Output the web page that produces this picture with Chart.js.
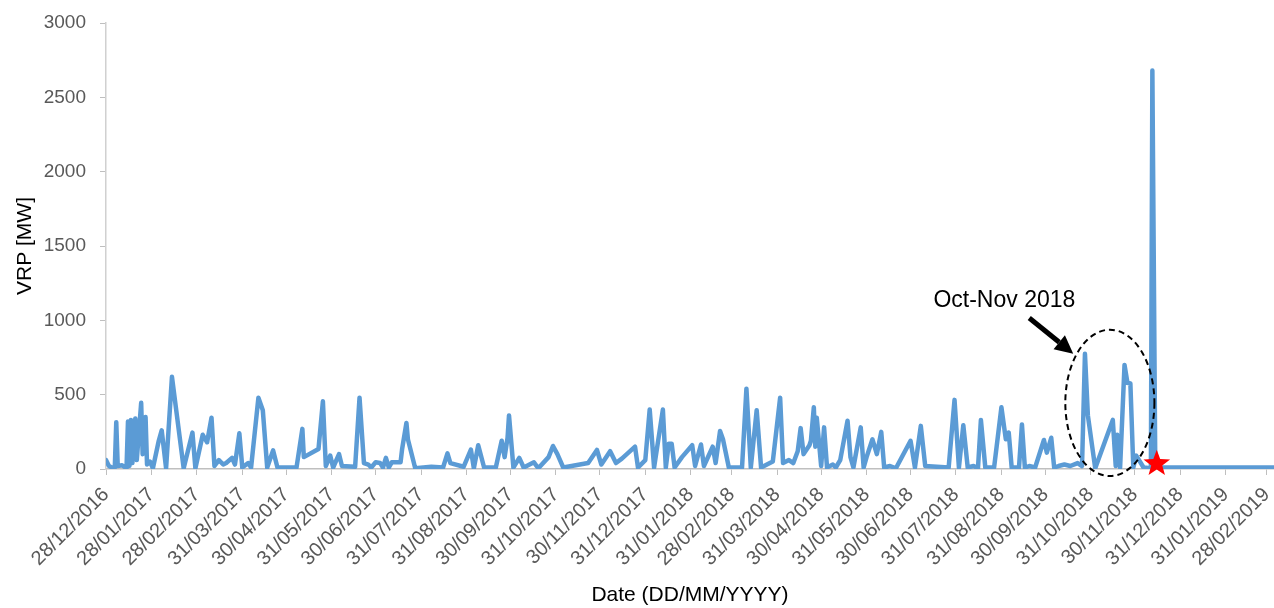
<!DOCTYPE html>
<html>
<head>
<meta charset="utf-8">
<script src="https://cdn.jsdelivr.net/npm/chart.js@4.4.1/dist/chart.umd.min.js"></script>
<style>
  html, body { margin: 0; padding: 0; background: #fff; }
  #wrap { width: 1274px; height: 608px; position: relative; }
</style>
</head>
<body>
<div id="wrap"><canvas id="vrpChart"></canvas></div>
<script>
// days after 28/12/2016
const dayIndex = [
  0, 2, 4, 6, 7, 8, 11, 14, 15, 16, 17, 18, 20, 21, 24, 25, 27, 28, 30, 32,
  36, 38, 41, 45, 53, 59, 61, 66, 69, 72, 74, 77, 80, 82, 86, 88, 91, 93, 97, 99,
  104, 107, 110, 114, 117, 130, 134, 135, 145, 148, 150, 153,
  155, 159, 161, 170, 173, 176, 179, 181, 184, 187, 189, 191, 193, 195, 201, 202, 205, 206, 211, 222,
  230, 233, 235, 244, 249, 251, 254, 258, 266, 270, 272, 274, 275, 278, 282, 285, 292, 295, 302, 305,
  308, 312,
  329, 335, 338, 344, 348, 352, 361, 363, 368, 371, 374, 380, 382, 384, 386, 388, 393, 400, 402, 406,
  408, 414, 416, 419, 421, 425, 434, 437, 440, 444, 447, 455, 460, 462, 466,
  469, 472, 474, 476, 480, 481, 483, 484, 485, 488, 490, 492, 496, 498, 501, 506, 508, 510, 515, 517,
  519, 523, 526, 529, 531, 535, 539, 549, 552, 556, 559, 575, 579, 582, 585, 588, 592, 595, 597, 600,
  606, 611, 614, 616, 618, 623, 625,
  627, 630, 634, 640, 642, 645, 647, 650, 654, 658, 663, 666, 668, 670, 675, 687, 689, 690, 692, 695,
  697, 699, 701, 703, 708, 713, 714, 716, 797
];
// VRP in MW
const vrp = [
  60, 20, 10, 10, 315, 20, 25, 5, 320, 20, 330, 40, 340, 60, 445, 100, 350, 30, 50, 5,
  190, 260, 5, 620, 5, 245, 5, 230, 180, 345, 20, 60, 30, 40, 75, 30, 240, 10, 40, 10,
  480, 395, 10, 125, 10, 10, 270, 80, 135, 455, 20, 90,
  10, 100, 20, 15, 480, 40, 30, 10, 45, 40, 10, 75, 10, 45, 45, 130, 310, 200, 5, 15,
  10, 105, 40, 15, 130, 5, 160, 10, 10, 190, 80, 210, 360, 10, 75, 10, 45, 5, 80, 155,
  100, 10,
  40, 128, 30, 120, 40, 70, 150, 10, 60, 400, 10, 400, 10, 170, 170, 10, 80, 160, 20, 165,
  20, 150, 40, 255, 200, 10, 10, 540, 10, 395, 10, 50, 480, 40, 60,
  40, 120, 275, 100, 160, 190, 415, 150, 345, 20, 280, 10, 30, 10, 60, 325, 80, 10, 280, 10,
  80, 200, 100, 250, 10, 20, 5, 190, 10, 290, 20, 10, 465, 10, 295, 10, 20, 5, 330, 10,
  10, 415, 200, 245, 10, 10, 300,
  10, 20, 10, 195, 110, 210, 10, 20, 30, 20, 40, 20, 775, 360, 5, 330, 20, 230, 10, 700,
  580, 575, 10, 90, 10, 5, 2680, 10, 10
];
const tickLabels = [
  '28/12/2016', '28/01/2017', '28/02/2017', '31/03/2017', '30/04/2017', '31/05/2017',
  '30/06/2017', '31/07/2017', '31/08/2017', '30/09/2017', '31/10/2017', '30/11/2017',
  '31/12/2017', '31/01/2018', '28/02/2018', '31/03/2018', '30/04/2018', '31/05/2018',
  '30/06/2018', '31/07/2018', '31/08/2018', '30/09/2018', '31/10/2018', '30/11/2018',
  '31/12/2018', '31/01/2019', '28/02/2019'
];
const lastDay = 797;

// the Oct-Nov 2018 note, in data units (day, MW)
const noteText = 'Oct-Nov 2018';
const notePos = [613, 1135];
const arrowFrom = [630, 1016];
const arrowTo = [660, 776];
const ellipseCenter = [685, 445];
const ellipseRadius = [30.4, 492];
const starPos = [717, 35];

const fontFamily = '"Liberation Sans", Arial, sans-serif';

function dayOf(label) {
  const p = label.split('/');
  return Math.round((Date.UTC(+p[2], +p[1] - 1, +p[0]) - Date.UTC(2016, 11, 28)) / 86400000);
}
const tickDays = tickLabels.map(dayOf);

const notePlugin = {
  id: 'note',
  afterDatasetsDraw(chart) {
    const ctx = chart.ctx;
    const x = chart.scales.x, y = chart.scales.y;
    ctx.save();

    // dashed ellipse round the Oct-Nov spikes
    const cx = x.getPixelForValue(ellipseCenter[0]);
    const cy = y.getPixelForValue(ellipseCenter[1]);
    const rx = x.getPixelForValue(ellipseCenter[0] + ellipseRadius[0]) - cx;
    const ry = cy - y.getPixelForValue(ellipseCenter[1] + ellipseRadius[1]);
    ctx.setLineDash([6, 4]);
    ctx.lineWidth = 2;
    ctx.strokeStyle = '#000';
    ctx.beginPath();
    ctx.ellipse(cx, cy, rx, ry, 0, 0, Math.PI * 2);
    ctx.stroke();
    ctx.setLineDash([]);

    // arrow
    const x1 = x.getPixelForValue(arrowFrom[0]), y1 = y.getPixelForValue(arrowFrom[1]);
    const x2 = x.getPixelForValue(arrowTo[0]), y2 = y.getPixelForValue(arrowTo[1]);
    const ang = Math.atan2(y2 - y1, x2 - x1);
    const headLen = 18, headW = 9;
    const bx = x2 - headLen * Math.cos(ang), by = y2 - headLen * Math.sin(ang);
    ctx.lineWidth = 5;
    ctx.beginPath();
    ctx.moveTo(x1, y1);
    ctx.lineTo(bx, by);
    ctx.stroke();
    ctx.fillStyle = '#000';
    ctx.beginPath();
    ctx.moveTo(x2, y2);
    ctx.lineTo(bx + headW * Math.sin(ang), by - headW * Math.cos(ang));
    ctx.lineTo(bx - headW * Math.sin(ang), by + headW * Math.cos(ang));
    ctx.closePath();
    ctx.fill();

    // label
    ctx.font = '23px ' + fontFamily;
    ctx.textAlign = 'center';
    ctx.textBaseline = 'middle';
    ctx.fillText(noteText, x.getPixelForValue(notePos[0]), y.getPixelForValue(notePos[1]));

    // red star
    const sx = x.getPixelForValue(starPos[0]), sy = y.getPixelForValue(starPos[1]);
    const outer = 14, inner = 5.8;
    ctx.fillStyle = '#ff0000';
    ctx.beginPath();
    for (let i = 0; i < 10; i++) {
      const r = i % 2 === 0 ? outer : inner;
      const a = -Math.PI / 2 + i * Math.PI / 5;
      if (i === 0) ctx.moveTo(sx + r * Math.cos(a), sy + r * Math.sin(a));
      else ctx.lineTo(sx + r * Math.cos(a), sy + r * Math.sin(a));
    }
    ctx.closePath();
    ctx.fill();

    ctx.restore();
  }
};

new Chart(document.getElementById('vrpChart'), {
  type: 'line',
  data: {
    datasets: [{
      label: 'VRP',
      data: dayIndex.map((d, i) => ({ x: d, y: vrp[i] })),
      borderColor: '#5B9BD5',
      borderWidth: 4.5,
      borderJoinStyle: 'round',
      borderCapStyle: 'round',
      pointRadius: 0,
      tension: 0,
      fill: false
    }]
  },
  options: {
    responsive: true,
    maintainAspectRatio: false,
    animation: false,
    layout: { padding: { top: 23, right: 0, bottom: 0, left: 0 } },
    plugins: {
      legend: { display: false },
      tooltip: { enabled: false }
    },
    scales: {
      x: {
        type: 'linear',
        min: 0,
        max: lastDay,
        afterBuildTicks: s => { s.ticks = tickDays.map(v => ({ value: v })); },
        afterFit: s => { s.height = 139; s.paddingLeft = 0; s.paddingRight = 0; },
        ticks: {
          autoSkip: false,
          minRotation: 45,
          maxRotation: 45,
          padding: 8,
          color: '#595959',
          font: { size: 20, family: fontFamily },
          callback: v => tickLabels[tickDays.indexOf(v)]
        },
        grid: { drawOnChartArea: false, tickLength: 6, tickColor: '#bfbfbf' },
        border: { color: '#bfbfbf', width: 1.5 },
        title: {
          display: true,
          text: 'Date (DD/MM/YYYY)',
          color: '#000',
          font: { size: 21, family: fontFamily },
          padding: { top: 0, bottom: 0 }
        }
      },
      y: {
        min: 0,
        max: 3000,
        afterFit: s => { s.width = 106; s.paddingTop = 0; s.paddingBottom = 0; },
        ticks: {
          stepSize: 500,
          padding: 14,
          color: '#595959',
          font: { size: 19, family: fontFamily },
          callback: v => String(v)
        },
        grid: { drawOnChartArea: false, tickLength: 6, tickColor: '#bfbfbf' },
        border: { color: '#d0d0d0', width: 1.5 },
        title: {
          display: true,
          text: 'VRP [MW]',
          color: '#000',
          font: { size: 21, family: fontFamily },
          padding: { top: 13, bottom: 0 }
        }
      }
    }
  },
  plugins: [notePlugin]
});
</script>
</body>
</html>
